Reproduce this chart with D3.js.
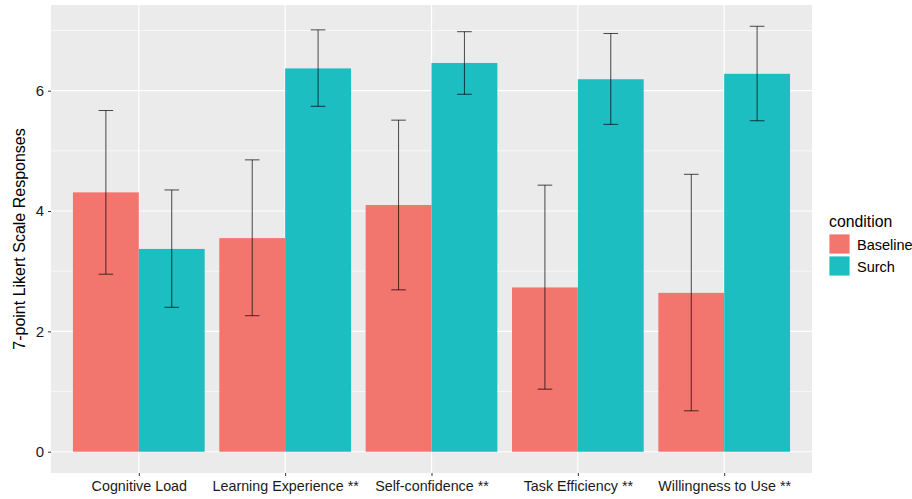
<!DOCTYPE html>
<html>
<head>
<meta charset="utf-8">
<script src="https://cdn.jsdelivr.net/npm/d3@7"></script>
<style>
  body { margin: 0; background: #fff; }
  svg text { font-family: "Liberation Sans", Arial, sans-serif; }
</style>
</head>
<body>
<div id="chart"></div>
<script>
const categories = ['Cognitive Load', 'Learning Experience **', 'Self-confidence **', 'Task Efficiency **', 'Willingness to Use **'];
const conditions = ['Baseline', 'Surch'];
const baselineMean = [4.31, 3.55, 4.10, 2.73, 2.64];
const baselineLow  = [2.95, 2.26, 2.69, 1.04, 0.68];
const baselineHigh = [5.67, 4.85, 5.51, 4.43, 4.61];
const surchMean = [3.37, 6.37, 6.46, 6.19, 6.28];
const surchLow  = [2.40, 5.74, 5.94, 5.44, 5.50];
const surchHigh = [4.35, 7.01, 6.98, 6.95, 7.07];
const yTicks = [0, 2, 4, 6];
const yMinor = [1, 3, 5, 7];

const colors = { Baseline: '#F3766E', Surch: '#1CBEC2' };

const rows = [];
categories.forEach((c, i) => {
  rows.push({ cat: c, cond: 'Baseline', mean: baselineMean[i], lo: baselineLow[i], hi: baselineHigh[i] });
  rows.push({ cat: c, cond: 'Surch', mean: surchMean[i], lo: surchLow[i], hi: surchHigh[i] });
});

const width = 912, height = 499;
const panel = { left: 51, right: 812, top: 5, bottom: 473 };

const svg = d3.select('#chart').append('svg')
  .attr('width', width)
  .attr('height', height);

// ggplot-like expansion: 0.6 units each side for discrete, 5% for continuous
const n = categories.length;
const unit = (panel.right - panel.left) / (n + 0.2);
const x = d3.scalePoint()
  .domain(categories)
  .range([panel.left + 0.6 * unit, panel.right - 0.6 * unit]);
const cx = c => x(c);

const yMax = d3.max(rows, d => d.hi);
const pad = yMax * 0.05;
const y = d3.scaleLinear()
  .domain([-pad, yMax + pad])
  .range([panel.bottom, panel.top]);

// panel background
svg.append('rect')
  .attr('x', panel.left).attr('y', panel.top)
  .attr('width', panel.right - panel.left)
  .attr('height', panel.bottom - panel.top)
  .attr('fill', '#EBEBEB');

// grid
const grid = svg.append('g');
grid.selectAll('.minor').data(yMinor).enter().append('line')
  .attr('x1', panel.left).attr('x2', panel.right)
  .attr('y1', d => y(d)).attr('y2', d => y(d))
  .attr('stroke', '#fff').attr('stroke-width', 0.6);
grid.selectAll('.major').data(yTicks).enter().append('line')
  .attr('x1', panel.left).attr('x2', panel.right)
  .attr('y1', d => y(d)).attr('y2', d => y(d))
  .attr('stroke', '#fff').attr('stroke-width', 1.2);
grid.selectAll('.vmajor').data(categories).enter().append('line')
  .attr('x1', d => cx(d)).attr('x2', d => cx(d))
  .attr('y1', panel.top).attr('y2', panel.bottom)
  .attr('stroke', '#fff').attr('stroke-width', 1.2);

// bars (dodged, total width 0.9)
const barW = 0.45 * unit;
const offset = d => (d.cond === 'Baseline' ? -barW : 0);

svg.append('g').selectAll('rect')
  .data(rows).enter().append('rect')
  .attr('x', d => cx(d.cat) + offset(d))
  .attr('y', d => y(d.mean))
  .attr('width', barW)
  .attr('height', d => y(0) - y(d.mean))
  .attr('fill', d => colors[d.cond]);

// error bars
const capW = 0.1 * unit;
const eb = svg.append('g')
  .attr('stroke', 'rgba(0,0,0,0.7)')
  .attr('stroke-width', 1)
  .attr('fill', 'none');
const ebx = d => cx(d.cat) + offset(d) + barW / 2;
eb.selectAll('.v').data(rows).enter().append('line')
  .attr('x1', ebx).attr('x2', ebx)
  .attr('y1', d => y(d.lo)).attr('y2', d => y(d.hi));
eb.selectAll('.t').data(rows).enter().append('line')
  .attr('x1', d => ebx(d) - capW / 2).attr('x2', d => ebx(d) + capW / 2)
  .attr('y1', d => y(d.hi)).attr('y2', d => y(d.hi));
eb.selectAll('.b').data(rows).enter().append('line')
  .attr('x1', d => ebx(d) - capW / 2).attr('x2', d => ebx(d) + capW / 2)
  .attr('y1', d => y(d.lo)).attr('y2', d => y(d.lo));

// y axis
const yAxis = svg.append('g')
  .attr('transform', `translate(${panel.left},0)`)
  .call(d3.axisLeft(y).tickValues(yTicks).tickSize(3).tickPadding(4).tickFormat(d3.format('d')));
yAxis.select('.domain').remove();
yAxis.selectAll('line').attr('stroke', '#333');
yAxis.selectAll('text').attr('fill', '#1a1a1a').style('font-size', '15px');

// x axis
const xAxis = svg.append('g')
  .attr('transform', `translate(0,${panel.bottom})`)
  .call(d3.axisBottom(x).tickSize(3).tickPadding(5));
xAxis.select('.domain').remove();
xAxis.selectAll('line').attr('stroke', '#333');
xAxis.selectAll('text').attr('fill', '#1a1a1a').style('font-size', '14.3px');

// y title
svg.append('text')
  .attr('transform', `translate(25,${(panel.top + panel.bottom) / 2}) rotate(-90)`)
  .attr('text-anchor', 'middle')
  .style('font-size', '16px')
  .attr('fill', '#000')
  .text('7-point Likert Scale Responses');

// legend
const legend = svg.append('g').attr('transform', 'translate(829,0)');
legend.append('text')
  .attr('x', 0).attr('y', 227)
  .style('font-size', '15.8px')
  .text('condition');
const keys = legend.selectAll('.key').data(conditions).enter().append('g')
  .attr('transform', (d, i) => `translate(0,${234 + i * 22})`);
keys.append('rect')
  .attr('width', 21).attr('height', 20)
  .attr('fill', d => colors[d])
  .attr('stroke', '#fff').attr('stroke-width', 0.8);
keys.append('text')
  .attr('x', 28).attr('y', 15.5)
  .style('font-size', '14.5px')
  .text(d => d);
</script>
</body>
</html>
